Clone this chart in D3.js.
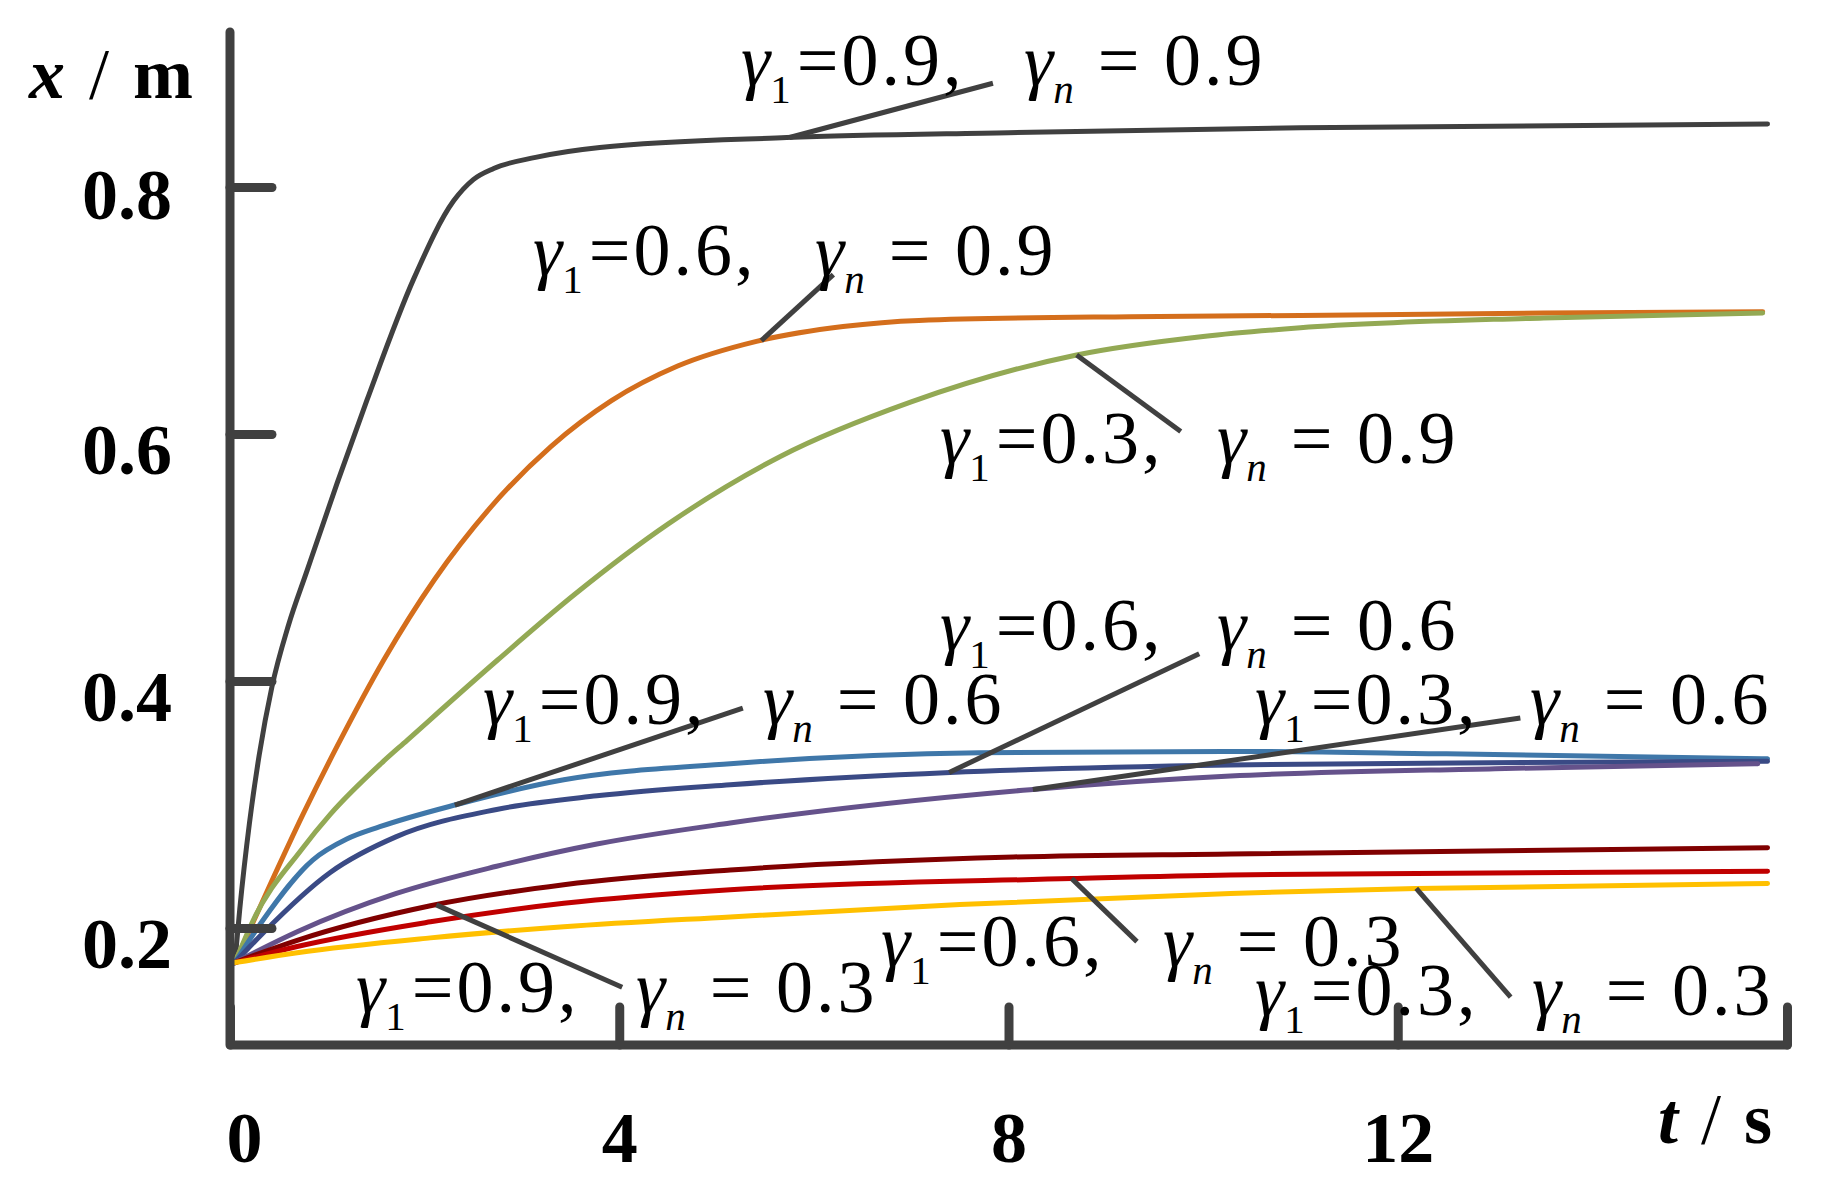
<!DOCTYPE html>
<html>
<head>
<meta charset="utf-8">
<script src="https://cdn.jsdelivr.net/npm/d3@7"></script>
<style>
  html, body { margin: 0; padding: 0; background: #ffffff; }
  svg { display: block; }
  text { font-family: 'Times New Roman', 'Liberation Serif', serif; fill: #000; }
</style>
</head>
<body>
<svg id="chart" width="1825" height="1200"></svg>
<script>
// ---------------- DATA (t in s, x in m) ----------------
const xTicks = [0, 4, 8, 12, 16];
const xTickLabels = ["0", "4", "8", "12", ""];
const yTicks = [0.2, 0.4, 0.6, 0.8];
const yTickLabels = ["0.2", "0.4", "0.6", "0.8"];

// gamma1 = 0.9, gamma_n = 0.9
const s_g09_n09 = [[0.05,0.172],[0.1,0.215],[0.2,0.285],[0.3,0.340],[0.43,0.395],[0.6,0.445],[0.79,0.489],[1.1,0.560],[1.41,0.628],[1.89,0.726],[2.3,0.789],[2.5,0.806],[2.71,0.815],[3.14,0.824],[3.8,0.832],[5.72,0.840],[8,0.844],[11,0.848],[15.8,0.851]];
// gamma1 = 0.6, gamma_n = 0.9
const s_g06_n09 = [[0.05,0.172],[0.4,0.233],[0.75,0.292],[1.1,0.347],[1.58,0.417],[2.1,0.482],[2.66,0.539],[3.3,0.590],[3.92,0.627],[4.6,0.655],[5.41,0.675],[6.3,0.687],[7.08,0.692],[9.25,0.695],[11,0.696],[13.5,0.698],[15.75,0.699]];
// gamma1 = 0.3, gamma_n = 0.9
const s_g03_n09 = [[0.05,0.172],[0.24,0.2065],[0.73,0.263],[1.03,0.292],[1.55,0.333],[1.82,0.352],[2.75,0.417],[3.54,0.470],[4.5,0.527],[5.66,0.582],[7.0,0.626],[8.7,0.664],[10,0.679],[11,0.686],[13.5,0.694],[15.75,0.698]];
// gamma1 = 0.9, gamma_n = 0.6
const s_g09_n06 = [[0.05,0.172],[0.34,0.2065],[0.85,0.255],[1.2,0.272],[1.54,0.282],[2.33,0.300],[3.43,0.320],[5.14,0.333],[7.7,0.342],[10.28,0.343],[12.5,0.341],[15.8,0.337]];
// gamma1 = 0.6, gamma_n = 0.6
const s_g06_n06 = [[0.05,0.172],[0.34,0.196],[1.03,0.245],[1.71,0.274],[2.74,0.296],[3.77,0.307],[5.14,0.316],[7.4,0.326],[10.28,0.332],[13.3,0.334],[15.8,0.335]];
// gamma1 = 0.3, gamma_n = 0.6
const s_g03_n06 = [[0.05,0.172],[0.69,0.197],[1.71,0.228],[2.74,0.250],[3.77,0.268],[5.14,0.285],[8.22,0.312],[10.28,0.323],[13,0.329],[15.7,0.333]];
// gamma1 = 0.9, gamma_n = 0.3
const s_g09_n03 = [[0.05,0.172],[0.69,0.190],[2.06,0.218],[3.43,0.235],[5.14,0.247],[8.05,0.2575],[10.28,0.260],[15.8,0.265]];
// gamma1 = 0.6, gamma_n = 0.3
const s_g06_n03 = [[0.05,0.172],[0.69,0.185],[2.06,0.205],[3.43,0.220],[5.14,0.231],[8.65,0.240],[10.28,0.243],[15.8,0.246]];
// gamma1 = 0.3, gamma_n = 0.3
const s_g03_n03 = [[0.05,0.172],[0.69,0.180],[2.06,0.192],[3.43,0.201],[5.14,0.209],[7.5,0.219],[10.28,0.228],[12.19,0.232],[15.8,0.236]];

const seriesData = [s_g09_n09, s_g06_n09, s_g03_n09, s_g09_n06, s_g06_n06, s_g03_n06, s_g09_n03, s_g06_n03, s_g03_n03];
const gamma1Values = ["0.9","0.6","0.3","0.9","0.6","0.3","0.9","0.6","0.3"];
const gammaNValues = ["0.9","0.9","0.9","0.6","0.6","0.6","0.3","0.3","0.3"];
// leader lines: t where leader touches the curve, and far end (t, x)
const leaderTouchT = [5.75, 5.46, 8.70, 2.31, 7.39, 8.25, 2.12, 8.65, 12.19];
const leaderEnd = [[7.84,0.884],[6.20,0.729],[9.77,0.602],[5.27,0.378],[9.96,0.422],[13.26,0.370],[4.03,0.152],[9.32,0.189],[13.16,0.144]];

// ---------------- STYLE / LAYOUT ----------------
const colors = ["#404040","#D46E1C","#93A954","#3F77A9","#3A4A85","#65528B","#800000","#C00000","#FFC000"];
const axisColor = "#404040";
// label placement in pixels: [xPartA, xPartB, baseline]
const labelLayout = [[741,1024,85],[533,815,275],[940,1217,463],[483,763,724],[940,1217,650],[1255,1530,724],[356,636,1012],[881,1163,966],[1255,1532,1015]];

const svg = d3.select("#chart");
svg.append("rect").attr("width",1825).attr("height",1200).attr("fill","#fff");

const x = d3.scaleLinear().domain([0,16]).range([230,1787]);
const y = d3.scaleLinear().domain([0.2,0.8]).range([928,187]);
const axisX0 = 230, axisY0 = 1045, axisTop = 32;

// curves
const line = d3.line().x(d => x(d[0])).y(d => y(d[1])).curve(d3.curveMonotoneX);
seriesData.forEach((s, i) => {
  svg.append("path").datum(s).attr("d", line)
    .attr("fill","none").attr("stroke",colors[i]).attr("stroke-width",5)
    .attr("stroke-linejoin","round").attr("stroke-linecap","round");
});

// leaders
function valueAt(s, t) {
  for (let k = 1; k < s.length; k++) {
    if (t <= s[k][0]) {
      const a = s[k-1], b = s[k];
      return a[1] + (b[1]-a[1]) * (t-a[0])/(b[0]-a[0]);
    }
  }
  return s[s.length-1][1];
}
leaderTouchT.forEach((t, i) => {
  const v = valueAt(seriesData[i], t);
  svg.append("line")
    .attr("x1", x(t)).attr("y1", y(v))
    .attr("x2", x(leaderEnd[i][0])).attr("y2", y(leaderEnd[i][1]))
    .attr("stroke", axisColor).attr("stroke-width", 5).attr("stroke-linecap","butt");
});

// axes lines
svg.append("path")
  .attr("d", `M${axisX0},${axisTop}L${axisX0},${axisY0}L${x(16)},${axisY0}`)
  .attr("fill","none").attr("stroke",axisColor).attr("stroke-width",9)
  .attr("stroke-linecap","round").attr("stroke-linejoin","round");

// y axis ticks
const yAxis = d3.axisLeft(y).tickValues(yTicks).tickSize(-42).tickPadding(0)
  .tickFormat((d,i) => yTickLabels[i]);
const gy = svg.append("g").attr("transform",`translate(${axisX0},0)`).call(yAxis);
gy.select(".domain").remove();
gy.selectAll(".tick line").attr("stroke",axisColor).attr("stroke-width",9).attr("stroke-linecap","round");
gy.selectAll(".tick text").attr("x",-58).attr("dy", d => d === 0.8 ? 31 : 39)
  .attr("text-anchor","end").style("font-size","72px").style("font-weight","bold")
  .style("font-family","'Times New Roman','Liberation Serif',serif").attr("fill","#000");

// x axis ticks
const xAxis = d3.axisBottom(x).tickValues(xTicks).tickSize(-38).tickPadding(0)
  .tickFormat((d,i) => xTickLabels[i]);
const gx = svg.append("g").attr("transform",`translate(0,${axisY0})`).call(xAxis);
gx.select(".domain").remove();
gx.selectAll(".tick line").attr("stroke",axisColor).attr("stroke-width",9).attr("stroke-linecap","round");
gx.selectAll(".tick text").attr("y",117).attr("dy",0)
  .attr("dx", d => d === 0 ? 14 : 0)
  .style("font-size","72px").style("font-weight","bold")
  .style("font-family","'Times New Roman','Liberation Serif',serif").attr("fill","#000");

// axis titles
const ty = svg.append("text").attr("x",29).attr("y",98).style("font-size","72px");
ty.append("tspan").attr("font-style","italic").attr("font-weight","bold").text("x");
ty.append("tspan").attr("dx",24).text("/");
ty.append("tspan").attr("dx",24).attr("font-weight","bold").text("m");

const tx = svg.append("text").attr("x",1658).attr("y",1143).style("font-size","72px");
tx.append("tspan").attr("font-style","italic").attr("font-weight","bold").text("t");
tx.append("tspan").attr("dx",23).text("/");
tx.append("tspan").attr("dx",23).attr("font-weight","bold").text("s");

// annotation labels
function gammaText(xp, yp, sub, subItalic, rest, restDx) {
  const t = svg.append("text").attr("x",xp).attr("y",yp).style("font-size","74px");
  t.append("tspan").attr("font-style","italic").text("γ");
  t.append("tspan").attr("dy",18).style("font-size","41px")
    .attr("font-style", subItalic ? "italic" : "normal").text(sub);
  t.append("tspan").attr("dy",-18).attr("dx",restDx).style("letter-spacing","3px").text(rest);
}
labelLayout.forEach((p, i) => {
  gammaText(p[0], p[2], "1", false, "=" + gamma1Values[i] + ",", 6);
  gammaText(p[1], p[2], "n", true, "= " + gammaNValues[i], 24);
});
</script>
</body>
</html>
